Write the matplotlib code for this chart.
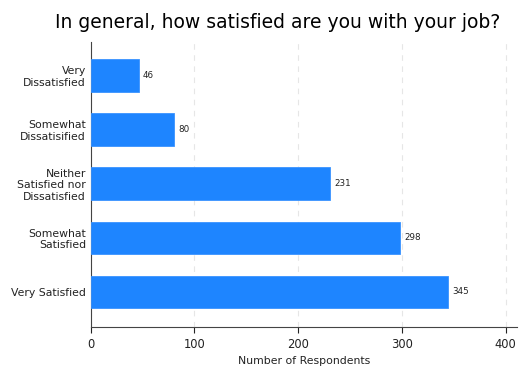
import matplotlib
matplotlib.use('Agg')
import matplotlib.pyplot as plt
import numpy as np

# 資料
categories = ['Very\nDissatisfied', 'Somewhat\nDissatisified', 'Neither\nSatisfied nor\nDissatisfied',
              'Somewhat\nSatisfied', 'Very Satisfied']
counts = [46, 80, 231, 298, 345]

fig = plt.figure(figsize=(5.28, 3.84), dpi=100)
ax = fig.add_axes([0.172, 0.148, 0.807, 0.742])

y = np.arange(len(categories))[::-1]
ax.barh(y, counts, height=0.6, color='#1E85FF', edgecolor='#3a93ff', linewidth=0.6, zorder=3)

# 數值標籤
for yi, v in zip(y, counts):
    ax.text(v + 4, yi, str(v), va='center', ha='left', fontsize=6.3, color='#222222')

ax.set_yticks(y)
ax.set_yticklabels(categories, fontsize=7.8, color='#222222')
ax.tick_params(axis='y', length=0, pad=3.5)
ax.set_xlim(0, 411)
ax.set_ylim(-0.65, 4.61)
ax.set_xticks([0, 100, 200, 300, 400])
ax.tick_params(axis='x', labelsize=8.3, colors='#222222', length=4, width=0.8)
ax.set_xlabel('Number of Respondents', fontsize=7.8, color='#222222')
ax.grid(True, axis='x', linestyle=(0, (5, 5)), color='#e6e6e6', linewidth=0.8, zorder=0)

for s in ['top', 'right']:
    ax.spines[s].set_visible(False)
for s in ['left', 'bottom']:
    ax.spines[s].set_color('#444444')
    ax.spines[s].set_linewidth(0.8)

fig.suptitle('In general, how satisfied are you with your job?', fontsize=13.5, y=0.965, x=0.526)

fig.savefig('out.png', dpi=100)
